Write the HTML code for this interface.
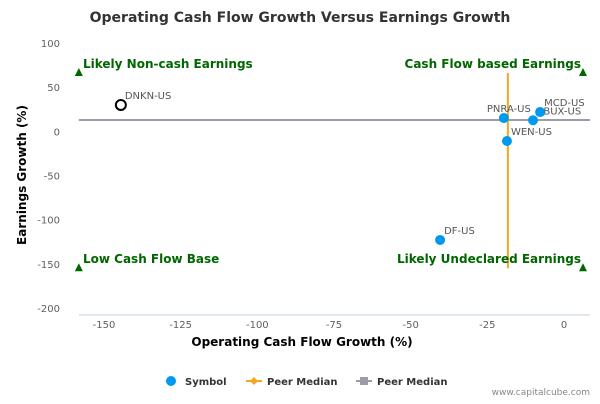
<!DOCTYPE html>
<html><head><meta charset="utf-8"><style>
body{margin:0;background:#fff;font-family:"DejaVu Sans","Liberation Sans",sans-serif}
svg text{font-family:"DejaVu Sans","Liberation Sans",sans-serif}
</style></head><body>
<svg id="c" width="600" height="400" xmlns="http://www.w3.org/2000/svg">
<rect width="600" height="400" fill="#fff"/>
<text x="300" y="22" text-anchor="middle" font-size="14" font-weight="bold" fill="#333">Operating Cash Flow Growth Versus Earnings Growth</text>
<g id="axes"></g>
<g id="plot"></g>
<text x="302" y="346" text-anchor="middle" font-size="12" font-weight="bold" fill="#000">Operating Cash Flow Growth (%)</text>
<text transform="translate(26,175) rotate(-90)" text-anchor="middle" font-size="12" font-weight="bold" fill="#000">Earnings Growth (%)</text>
<g font-size="10" font-weight="bold" fill="#333">
<g><circle cx="171" cy="381" r="5" fill="#0099ee"/><text x="185" y="385">Symbol</text></g>
<g><line x1="246" y1="381" x2="262" y2="381" stroke="#f5a623" stroke-width="2"/><path d="M254 377 L258 381 L254 385 L250 381Z" fill="#f5a623"/><text x="267" y="385">Peer Median</text></g>
<g><line x1="356" y1="381" x2="372" y2="381" stroke="#9a9ca8" stroke-width="2"/><rect x="360" y="377" width="8" height="8" fill="#9a9ca8"/><text x="377" y="385">Peer Median</text></g>
</g>
<text x="590" y="395" text-anchor="end" font-size="9" fill="#888">www.capitalcube.com</text>
</svg>
<script>
const xTicks=[-150,-125,-100,-75,-50,-25,0];
const yTicks=[100,50,0,-50,-100,-150,-200];
const symbols=["DNKN-US","PNRA-US","SBUX-US","MCD-US","WEN-US","DF-US"];
const xVals=[-144.5,-19.6,-10.1,-7.8,-18.6,-40.4];
const yVals=[29.8,15,12.5,21.8,-11,-123];
const medianX=-18.3;
const medianY=12.8;
const xMin=-158.2,xMax=6.2,yTop=66,yBot=-155;
const X=v=>564+v*3.0667;
const Y=v=>131.3-v*0.8833;
const NS="http://www.w3.org/2000/svg";
function mk(p,t,a){const e=document.createElementNS(NS,t);for(const k in a)e.setAttribute(k,a[k]);p.appendChild(e);return e;}
const ax=document.getElementById('axes'),pl=document.getElementById('plot');
mk(ax,'line',{x1:79,y1:315,x2:590,y2:315,stroke:'#c0d0e0'});
xTicks.forEach(v=>{const t=mk(ax,'text',{x:X(v),y:328,'text-anchor':'middle','font-size':10,fill:'#606060'});t.textContent=v;

});
yTicks.forEach(v=>{const t=mk(ax,'text',{x:60,y:Y(v)+4,'text-anchor':'end','font-size':10,fill:'#606060'});t.textContent=v;

});
const hl=mk(pl,'line',{x1:X(xMin),y1:Y(medianY),x2:590,y2:Y(medianY),stroke:'#9a9ca8','stroke-width':2});


const vl=mk(pl,'line',{x1:X(medianX),y1:Y(yTop),x2:X(medianX),y2:Y(yBot),stroke:'#f5a623','stroke-width':2});


const quads=[[xMin,yTop,'start','Likely Non-cash Earnings',83],[xMax,yTop,'end','Cash Flow based Earnings',581],[xMin,yBot,'start','Low Cash Flow Base',83],[xMax,yBot,'end','Likely Undeclared Earnings',581]];
quads.forEach(q=>{const x=X(q[0]),y=Y(q[1]);
const tr=mk(pl,'path',{d:`M${x} ${y-5} L${x+4} ${y+3} L${x-4} ${y+3}Z`,fill:'#006600'});


const t=mk(pl,'text',{x:q[4],y:y-5,'text-anchor':q[2],'font-size':12,'font-weight':'bold',fill:'#006600'});t.textContent=q[3];

});
symbols.forEach((s,i)=>{const x=X(xVals[i]),y=Y(yVals[i]);
const c=i===0?mk(pl,'circle',{cx:x,cy:y,r:5,fill:'#fff',stroke:'#000','stroke-width':2}):mk(pl,'circle',{cx:x,cy:y,r:5,fill:'#0099ee'});


const t=mk(pl,'text',{x:x+(i===1?-17:4),y:y-6,'font-size':10,fill:'#555'});t.textContent=s;

});
</script>
</body></html>
